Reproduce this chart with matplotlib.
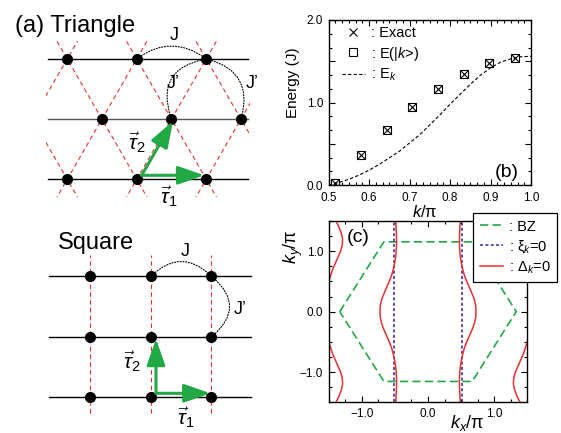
import numpy as np
import matplotlib
matplotlib.use("Agg")
import matplotlib.pyplot as plt
from matplotlib.lines import Line2D
from matplotlib.patches import FancyArrowPatch, Rectangle
from matplotlib.ticker import MultipleLocator, AutoMinorLocator, FuncFormatter

plt.rcParams['font.family'] = ['Liberation Sans', 'DejaVu Sans']
plt.rcParams['mathtext.fontset'] = 'custom'
plt.rcParams['mathtext.rm'] = 'Liberation Sans'
plt.rcParams['mathtext.it'] = 'Liberation Sans:italic'

W, H = 561, 433

# ---- (b) energy dispersion ----
k_pts = [0.515, 0.579, 0.643, 0.707, 0.770, 0.834, 0.897, 0.961]
e_exact = [0.03, 0.36, 0.67, 0.94, 1.16, 1.35, 1.48, 1.54]
e_proj = [0.03, 0.36, 0.67, 0.94, 1.16, 1.35, 1.48, 1.54]
k_line = [0.500, 0.525, 0.550, 0.575, 0.600, 0.625, 0.650, 0.675, 0.700, 0.725, 0.750,
          0.775, 0.800, 0.825, 0.850, 0.875, 0.900, 0.925, 0.950, 0.975, 1.000]
e_line = [0.00, 0.03, 0.07, 0.12, 0.18, 0.25, 0.33, 0.41, 0.51, 0.61, 0.73,
          0.85, 0.98, 1.10, 1.22, 1.33, 1.42, 1.49, 1.53, 1.555, 1.56]

# ---- (c) Brillouin zone and nodal lines ----
bz_kx = [-1.333, -0.667, 0.667, 1.333, 0.667, -0.667, -1.333]
bz_ky = [0.0, 1.155, 1.155, 0.0, -1.155, -1.155, 0.0]
xi_kx = [-0.51, 0.51]
# Delta_k = 0, inner branch (kx > 0, ky >= 0), mirrored for the rest
gap_ky = [0.0, 0.1, 0.2, 0.3, 0.4, 0.5, 0.6, 0.7, 0.8, 0.9, 1.0, 1.1, 1.2, 1.3, 1.4, 1.5]
gap_kx = [0.725, 0.72, 0.70, 0.665, 0.625, 0.585, 0.55, 0.525, 0.505, 0.49, 0.48,
          0.475, 0.475, 0.478, 0.482, 0.487]
# Delta_k = 0, outer branch near the left edge (ky > 0), mirrored for the rest
edge_ky = [0.40, 0.50, 0.60, 0.70, 0.80, 0.90, 1.00, 1.10, 1.20, 1.30, 1.40, 1.50]
edge_kx = [-1.53, -1.50, -1.47, -1.44, -1.40, -1.36, -1.32, -1.295, -1.29, -1.31, -1.345, -1.39]

# ---- (a) lattice sites, x positions per row in lattice units ----
tri_rows = [[-1, 0, 1], [-0.5, 0.5, 1.5], [-1, 0, 1]]
sq_rows = [[-1, 0, 1], [-1, 0, 1], [-1, 0, 1]]

GREEN = '#22a845'
RED = '#e8312f'
BLUE = '#2e2a96'

fig = plt.figure(figsize=(W / 100, H / 100), dpi=100)

# overlay axes in pixel units for the schematic panel
ax0 = fig.add_axes([0, 0, 1, 1], zorder=0)
ax0.set_xlim(0, W)
ax0.set_ylim(H, 0)
ax0.axis('off')


def lattice(origin, a, rows, dy, x_span, red_lines, clip_box, arcs, taus, labels):
    ox, oy = origin

    def px(x, y):
        return ox + a * np.asarray(x, float), oy - a * np.asarray(y, float)

    clip = Rectangle(clip_box[:2], clip_box[2], clip_box[3], transform=ax0.transData)
    for (x1, y1), (x2, y2) in red_lines:
        X, Y = px([x1, x2], [y1, y2])
        ln, = ax0.plot(X, Y, color=RED, lw=0.8, ls=(0, (4, 3)), zorder=1)
        ln.set_clip_path(clip)
    for j, row in enumerate(rows):
        X, Y = px(x_span, [j * dy, j * dy])
        ax0.plot(X, Y, color='#555555' if (dy < 1 and j == 1) else 'k', lw=1.0, zorder=2)
        X, Y = px(row, [j * dy] * len(row))
        ax0.plot(X, Y, 'o', color='k', ms=7, zorder=4)
    for (p, q, rad) in arcs:
        A = px(*p)
        B = px(*q)
        ax0.add_patch(FancyArrowPatch(A, B, arrowstyle='-', connectionstyle=f'arc3,rad={rad}',
                                      ls=(0, (1, 1.5)), lw=0.8, color='k', zorder=3))
    start = np.array(px(0, 0)) + np.array([5, -4])
    for (tx, ty) in taus:
        end = start + 0.9 * a * np.array([tx, -ty])
        ax0.annotate('', xy=end, xytext=start,
                     arrowprops=dict(arrowstyle='-|>,head_length=0.8,head_width=0.28',
                                     color=GREEN, lw=2.2, mutation_scale=20,
                                     shrinkA=0, shrinkB=0), zorder=5)
    for (x, y, s, fs) in labels:
        ax0.text(x, y, s, fontsize=fs, ha='center', va='center', zorder=6)


r3 = np.sqrt(3)
tri_lines = []
for c in range(-3, 4):
    tri_lines.append(((c - 0.3 / r3, -0.3), (c + 2.2 / r3, 2.2)))
    tri_lines.append(((c + 0.3 / r3, -0.3), (c - 2.2 / r3, 2.2)))
lattice((136.7, 179.3), 69.5, tri_rows, r3 / 2, [-1.28, 1.6], tri_lines, (46, 41, 204, 156),
        [((0, r3), (1, r3), -0.37), ((1, r3), (0.5, r3 / 2), 0.58), ((1, r3), (1.5, r3 / 2), -0.52)],
        [(1, 0), (0.5, r3 / 2)],
        [(174, 36, 'J', 13), (173, 84, 'J\u2019', 13), (252, 84, 'J\u2019', 13),
         (137, 143, r'$\vec{\tau}_2$', 15), (169, 197, r'$\vec{\tau}_1$', 15)])

sq_lines = [((c, -0.26), (c, 2.35)) for c in (-1, 0, 1)]
lattice((151.0, 397.3), 60.5, sq_rows, 1.0, [-1.69, 1.65], sq_lines, (0, 0, W, H),
        [((0, 2), (1, 2), -0.49), ((1, 2), (1, 1), -0.6)],
        [(1, 0), (0, 1)],
        [(185, 252, 'J', 13), (240, 309, 'J\u2019', 13),
         (132, 362, r'$\vec{\tau}_2$', 15), (186, 418, r'$\vec{\tau}_1$', 15)])

ax0.text(15, 32, '(a) Triangle', fontsize=17, ha='left', va='baseline')
ax0.text(58, 249, 'Square', fontsize=17, ha='left', va='baseline')

# ---- panel (b) ----
axb = fig.add_axes([328.7 / W, 1 - 185 / H, 202.3 / W, 165 / H], zorder=2)
axb.plot(k_pts, e_exact, ls='none', marker='x', color='k', ms=6, mew=0.8, label=': Exact')
axb.plot(k_pts, e_proj, ls='none', marker='s', mfc='none', mec='k', ms=6, mew=0.8,
         label=r': E(|$k$>)')
axb.plot(k_line, e_line, ls=(0, (3, 2)), color='k', lw=0.8, label=r': E$_k$')
axb.set_xlim(0.5, 1.0)
axb.set_ylim(0.0, 2.0)
axb.xaxis.set_major_locator(MultipleLocator(0.1))
axb.xaxis.set_minor_locator(AutoMinorLocator(6))
axb.yaxis.set_major_locator(MultipleLocator(0.5))
axb.yaxis.set_minor_locator(AutoMinorLocator(3))
axb.xaxis.set_major_formatter(FuncFormatter(lambda v, p: f'{v:.1f}'))
axb.yaxis.set_major_formatter(FuncFormatter(
    lambda v, p: f'{v:.1f}' if abs(v - round(v)) < 1e-6 else ''))
axb.set_xlabel(r'$k$/π', fontsize=12)
axb.xaxis.set_label_coords(0.476, -0.115)
axb.set_ylabel('Energy (J)', fontsize=11)
axb.yaxis.set_label_coords(-0.14, 0.62)
axb.text(0.88, 0.075, '(b)', transform=axb.transAxes, fontsize=14, ha='center', va='center')
axb.legend(loc='upper left', bbox_to_anchor=(0.05, 0.98), frameon=False, fontsize=10.5,
           handlelength=1.6, handletextpad=0.4, labelspacing=0.3, borderaxespad=0,
           borderpad=0.2)

# ---- panel (c) ----
axc = fig.add_axes([328.7 / W, 1 - 402.3 / H, 198.6 / W, 181.3 / H], zorder=3)
axc.plot(bz_kx, bz_ky, color=GREEN, lw=1.2, ls=(0, (5, 2.5)))
for x in xi_kx:
    axc.axvline(x, color=BLUE, lw=1.1, ls=(0, (2, 1.5)))
inner_ky = np.concatenate([-np.array(gap_ky[::-1]), gap_ky[1:]])
inner_kx = np.concatenate([gap_kx[::-1], gap_kx[1:]])
for sx in (1, -1):
    axc.plot(sx * inner_kx, inner_ky, color=RED, lw=1.1)
    for sy in (1, -1):
        axc.plot(sx * np.array(edge_kx), sy * np.array(edge_ky), color=RED, lw=1.1)
axc.set_xlim(-1.5, 1.5)
axc.set_ylim(-1.5, 1.5)
for ax in (axc.xaxis, axc.yaxis):
    ax.set_major_locator(MultipleLocator(1.0))
    ax.set_minor_locator(AutoMinorLocator(4))
    ax.set_major_formatter(FuncFormatter(lambda v, p: f'{v:.1f}'.replace('-', '\u2212')))
axc.set_xlabel(r'$k_x$/π', fontsize=13)
axc.xaxis.set_label_coords(0.695, -0.06)
axc.set_ylabel(r'$k_y$/π', fontsize=13)
axc.yaxis.set_label_coords(-0.12, 0.86)
axc.text(0.15, 0.91, '(c)', transform=axc.transAxes, fontsize=14, ha='center', va='center')
handles = [Line2D([], [], color=GREEN, lw=1.2, ls=(0, (5, 2.5))),
           Line2D([], [], color=BLUE, lw=1.1, ls=(0, (2, 1.5))),
           Line2D([], [], color=RED, lw=1.1)]
leg = axc.legend(handles, [': BZ', r': ξ$_k$=0', r': Δ$_k$=0'], loc='upper left',
                 bbox_to_anchor=(473 / W, 1 - 213 / H), bbox_transform=fig.transFigure,
                 fontsize=10.5, frameon=True, fancybox=False, edgecolor='k', framealpha=1,
                 handlelength=1.6, handletextpad=0.4, labelspacing=0.3, borderaxespad=0,
                 borderpad=0.45)
leg.get_frame().set_linewidth(0.9)

for ax in (axb, axc):
    ax.tick_params(which='both', direction='in', top=True, right=True, labelsize=8.5,
                   width=0.8, pad=4)
    ax.tick_params(which='major', length=4)
    ax.tick_params(which='minor', length=2)
    for s in ax.spines.values():
        s.set_linewidth(1.0)
axb.tick_params(axis='x', pad=5)

fig.savefig('out.png', dpi=100)
